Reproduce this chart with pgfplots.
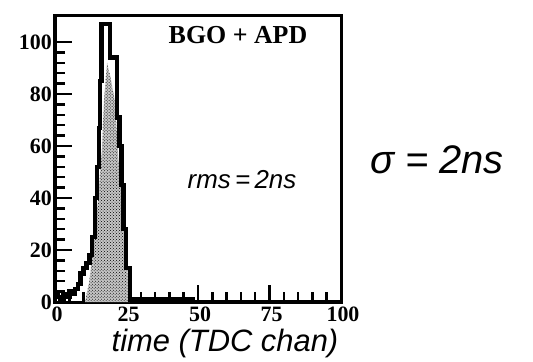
\documentclass[border=0pt]{standalone}
\usepackage{fontspec}
\setmainfont{Liberation Serif}
\setsansfont{Liberation Sans}
\usepackage{pgfplots}
\pgfplotsset{compat=1.18}
\usetikzlibrary{patterns}
\begin{document}
\begin{tikzpicture}
\path[use as bounding box] (-55bp,-60bp) rectangle (478bp,302bp);
\begin{axis}[
  at={(0,0)}, anchor=south west,
  scale only axis, width=286bp, height=286bp,
  xmin=0, xmax=100, ymin=0, ymax=110,
  xtick={0,25,50,75,100}, ytick={0,20,40,60,80,100},
  minor x tick num=4, minor y tick num=4,
  axis line style={line width=3bp},
  tick style={line width=2.5bp, black},
  major tick length=17bp, minor tick length=10bp,
  tick align=inside, tick pos=left,
  ticklabel style={font=\fontsize{22}{22}\selectfont\bfseries},
  xticklabel style={yshift=-4bp, xshift=2bp, inner sep=1bp},
  yticklabel style={xshift=-2bp, inner sep=1bp},
  /pgf/number format/assume math mode=true,
]
\addplot[draw=none, fill=gray!45] coordinates {
  (10.5,0) (12,8) (13.3,20) (15,39) (16.4,58) (17.1,77) (18.2,92)
  (19.5,86) (21,77) (22,58) (23.4,39) (24.8,20) (26.2,0)
} -- cycle;
\addplot[draw=none, pattern=crosshatch dots, pattern color=black] coordinates {
  (10.5,0) (12,8) (13.3,20) (15,39) (16.4,58) (17.1,77) (18.2,92)
  (19.5,86) (21,77) (22,58) (23.4,39) (24.8,20) (26.2,0)
} -- cycle;
\addplot[const plot, line width=4.5bp, black] coordinates {
  (0,3) (1,2) (2,1) (3,3) (4,2) (5,4) (6,3) (7,5) (8,7) (9,11) (10,13)
  (11,15) (12,18) (13,25) (14,40) (14.7,52) (15.3,67) (15.8,85) (16.3,107)
  (19.2,94) (21.7,71) (22.5,60) (23.2,45) (24,28) (24.8,13) (26.2,1)
  (30,1) (35,1) (40,1) (45,1) (48,0) (100,0)
};
\end{axis}
\node[font=\fontsize{26}{26}\selectfont\bfseries] at (183bp,267bp) {BGO + APD};
\node[font=\fontsize{26}{26}\selectfont\sffamily\itshape] at (187bp,122bp) {rms\,=\,2ns};
\node[font=\fontsize{31}{31}\selectfont\sffamily\itshape] at (170bp,-42bp) {time (TDC chan)};
\node[font=\fontsize{40}{40}\selectfont\sffamily\itshape] at (382bp,142bp) {σ = 2ns};
\end{tikzpicture}
\end{document}
